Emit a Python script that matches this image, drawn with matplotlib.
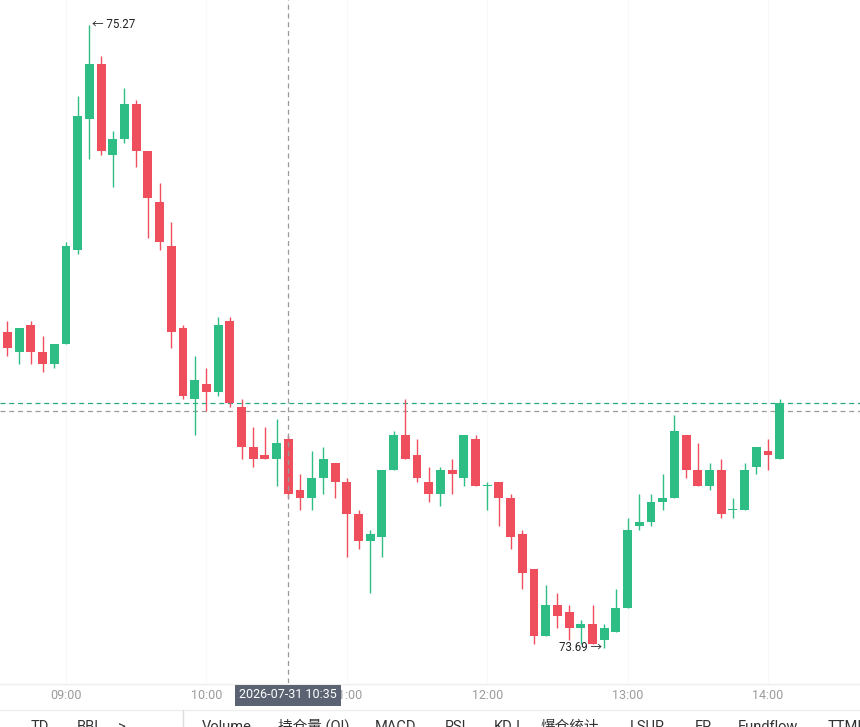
import numpy as np
import matplotlib
matplotlib.use("Agg")
import matplotlib.pyplot as plt
from matplotlib.lines import Line2D

plt.rcParams['font.family'] = ['Roboto', 'Noto Sans CJK SC', 'DejaVu Sans']

# 5-minute candles, 08:30 -> 14:05
times = ['08:30', '08:35', '08:40', '08:45', '08:50', '08:55',
         '09:00', '09:05', '09:10', '09:15', '09:20', '09:25', '09:30', '09:35', '09:40', '09:45', '09:50', '09:55',
         '10:00', '10:05', '10:10', '10:15', '10:20', '10:25', '10:30', '10:35', '10:40', '10:45', '10:50', '10:55',
         '11:00', '11:05', '11:10', '11:15', '11:20', '11:25', '11:30', '11:35', '11:40', '11:45', '11:50', '11:55',
         '12:00', '12:05', '12:10', '12:15', '12:20', '12:25', '12:30', '12:35', '12:40', '12:45', '12:50', '12:55',
         '13:00', '13:05', '13:10', '13:15', '13:20', '13:25', '13:30', '13:35', '13:40', '13:45', '13:50', '13:55',
         '14:00', '14:05']

opens = [74.52, 74.49, 74.44, 74.51, 74.44, 74.41,
         74.46, 74.70, 75.03, 75.17, 74.94, 74.98, 75.07, 74.95, 74.82, 74.71, 74.50, 74.32,
         74.36, 74.34, 74.52, 74.30, 74.20, 74.18, 74.17, 74.22, 74.09, 74.07, 74.12, 74.16,
         74.11, 74.03, 73.96, 73.97, 74.14, 74.23, 74.18, 74.11, 74.08, 74.14, 74.12, 74.22,
         74.10, 74.11, 74.07, 73.98, 73.89, 73.72, 73.80, 73.78, 73.74, 73.75, 73.71, 73.73,
         73.79, 74.00, 74.01, 74.06, 74.07, 74.23, 74.14, 74.10, 74.14, 74.04, 74.04, 74.15,
         74.19, 74.17]
highs = [74.53, 74.52, 74.50, 74.52, 74.48, 74.46,
         74.72, 75.09, 75.27, 75.19, 75.00, 75.11, 75.08, 74.95, 74.87, 74.77, 74.51, 74.43,
         74.40, 74.53, 74.53, 74.32, 74.25, 74.25, 74.27, 74.23, 74.13, 74.19, 74.20, 74.16,
         74.12, 74.04, 73.99, 74.14, 74.24, 74.32, 74.22, 74.15, 74.15, 74.17, 74.23, 74.23,
         74.11, 74.11, 74.08, 73.99, 73.89, 73.85, 73.83, 73.80, 73.76, 73.80, 73.75, 73.84,
         74.02, 74.08, 74.08, 74.13, 74.28, 74.23, 74.21, 74.16, 74.17, 74.07, 74.16, 74.20,
         74.22, 74.32]
lows = [74.48, 74.43, 74.41, 74.41, 74.39, 74.40,
        74.46, 74.69, 74.93, 74.94, 74.86, 74.97, 74.91, 74.73, 74.70, 74.45, 74.32, 74.23,
        74.29, 74.33, 74.30, 74.17, 74.15, 74.17, 74.10, 74.07, 74.04, 74.04, 74.08, 74.07,
        73.92, 73.94, 73.83, 73.92, 74.14, 74.17, 74.11, 74.06, 74.05, 74.08, 74.10, 74.10,
        74.04, 74.00, 73.94, 73.84, 73.70, 73.72, 73.74, 73.71, 73.70, 73.70, 73.69, 73.73,
        73.79, 73.99, 74.00, 74.04, 74.07, 74.12, 74.10, 74.09, 74.02, 74.02, 74.04, 74.13,
        74.14, 74.17]
closes = [74.49, 74.45, 74.50, 74.44, 74.41, 74.46,
          74.71, 75.04, 75.17, 74.95, 74.98, 75.07, 74.95, 74.83, 74.72, 74.49, 74.33, 74.37,
          74.34, 74.51, 74.31, 74.20, 74.17, 74.17, 74.21, 74.08, 74.07, 74.12, 74.17, 74.11,
          74.03, 73.96, 73.98, 74.14, 74.23, 74.17, 74.12, 74.08, 74.14, 74.13, 74.23, 74.10,
          74.10, 74.07, 73.97, 73.88, 73.72, 73.80, 73.77, 73.74, 73.75, 73.70, 73.74, 73.79,
          73.99, 74.01, 74.06, 74.07, 74.24, 74.14, 74.10, 74.14, 74.03, 74.04, 74.14, 74.20,
          74.18, 74.31]

cursor_time = '10:35'
cursor_price = 74.29
cursor_label = '2026-07-31 10:35'
tick_times = ['09:00', '10:00', '11:00', '12:00', '13:00', '14:00']
toolbar = [('TD', 40), ('BBI', 88), ('>', 122), ('Volume', 227), ('持仓量 (OI)', 314),
           ('MACD', 396), ('RSI', 456), ('KDJ', 507), ('爆仓统计', 570), ('LSUR', 647),
           ('FR', 703), ('Fundflow', 768), ('TTMI', 845)]

up = '#2ebd85'
down = '#ef4f5d'

W, H = 860, 727
fig = plt.figure(figsize=(W / 100, H / 100), dpi=100)
ax = fig.add_axes([0, 1 - 683 / H, 1, 683 / H])

o = np.array(opens); c = np.array(closes)
hi = np.array(highs); lo = np.array(lows)
x = np.arange(len(o))
cols = np.where(c >= o, up, down)

ax.vlines(x, lo, hi, colors=cols, lw=1, zorder=3)
body = np.maximum(np.abs(c - o), 0.003)
ax.bar(x, body, bottom=np.minimum(o, c), width=0.76, color=cols, zorder=4, linewidth=0)

ax.set_xlim(-5.64 + 6, 67.86 + 6)
ax.set_ylim(73.601, 75.333)

# max / min markers
imax = int(np.argmax(hi)); imin = int(np.argmin(lo))
ax.text(imax + 0.25, hi[imax], '← %.2f' % hi[imax], fontsize=8.3, color='#222222',
        ha='left', va='center', zorder=6)
ax.text(imin - 0.2, lo[imin], '%.2f →' % lo[imin], fontsize=8.3, color='#222222',
        ha='right', va='center', zorder=6)

# last price + crosshair
ax.axhline(c[-1], color='#2aa886', lw=0.9, ls=(0, (4, 3)), zorder=2)
ax.axhline(cursor_price, color='#9a9a9a', lw=0.9, ls=(0, (4, 3)), zorder=2)
xc = times.index(cursor_time)
ax.axvline(xc, color='#9a9a9a', lw=0.9, ls=(0, (4, 3)), zorder=5)

tpos = [times.index(t) for t in tick_times]
ax.set_xticks(tpos)
ax.set_xticklabels(tick_times)
ax.tick_params(axis='x', length=0, pad=4, labelsize=9, labelcolor='#9b9b9b')
ax.set_yticks([])
for t in tpos:
    ax.axvline(t, color='#f8f8f8', lw=0.8, zorder=0)
for s in ax.spines.values():
    s.set_visible(False)

# bottom separators
fig.add_artist(Line2D([0, 1], [1 - 684 / H] * 2, color='#eeeeee', lw=1))
fig.add_artist(Line2D([0, 1], [1 - 710 / H] * 2, color='#eeeeee', lw=1))
fig.add_artist(Line2D([183 / W] * 2, [1 - 710 / H, 0], color='#dddddd', lw=1))

fig.text(288 / W, 1 - 695 / H, cursor_label, ha='center', va='center', fontsize=9,
         color='white', zorder=10,
         bbox=dict(boxstyle='square,pad=0.32', facecolor='#5b6372', edgecolor='none'))

for name, px in toolbar:
    fig.text(px / W, 1 - 731 / H, name, ha='center', va='baseline', fontsize=10.5, color='#333333')

fig.savefig('out.png', dpi=100)
